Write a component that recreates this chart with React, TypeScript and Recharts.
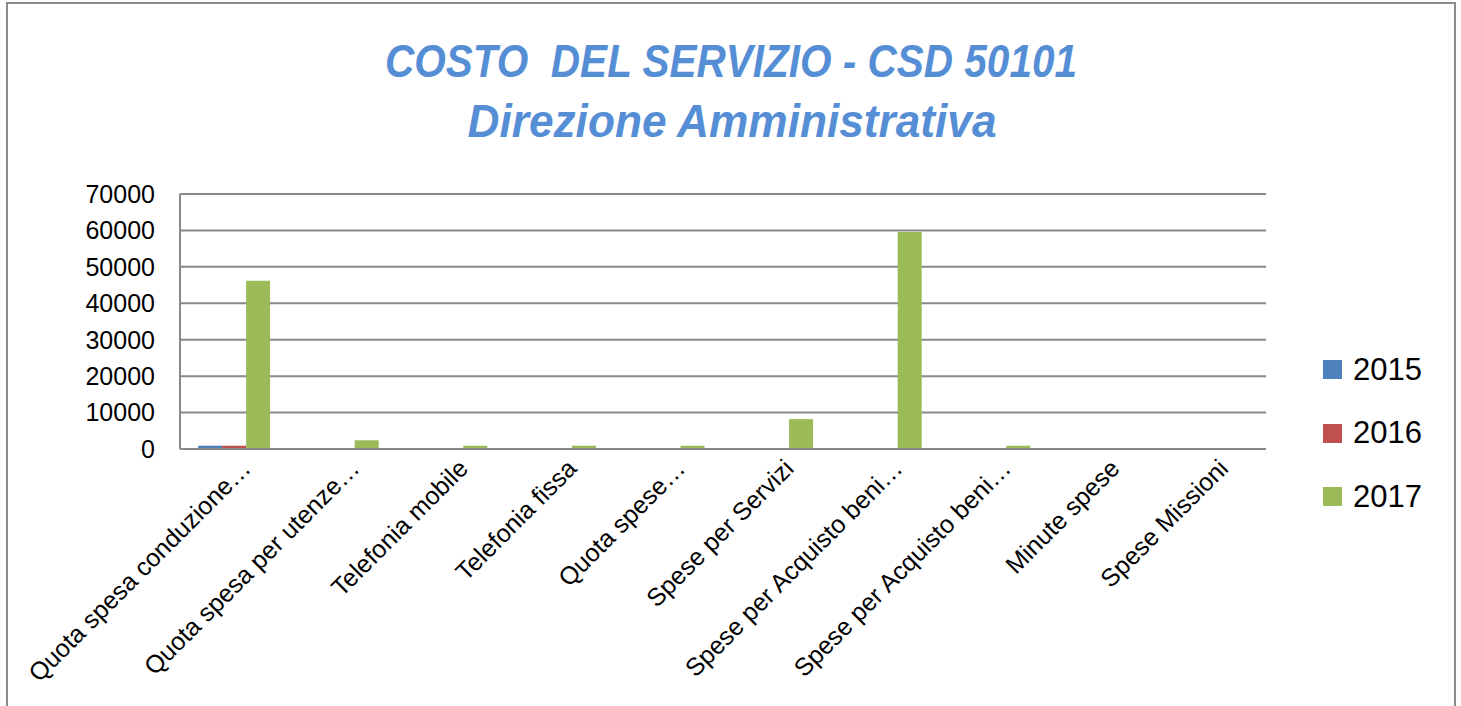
import { BarChart, Bar, XAxis, YAxis, CartesianGrid, Legend } from 'recharts';

const categories = [
  'Quota spesa conduzione…',
  'Quota spesa per utenze…',
  'Telefonia mobile',
  'Telefonia fissa',
  'Quota spese…',
  'Spese per Servizi',
  'Spese per Acquisto beni…',
  'Spese per Acquisto beni…',
  'Minute spese',
  'Spese Missioni',
];
const values2015 = [900, 0, 0, 0, 0, 0, 0, 0, 0, 0];
const values2016 = [900, 0, 0, 0, 0, 0, 0, 0, 0, 0];
const values2017 = [46200, 2400, 900, 900, 900, 8200, 59600, 900, 0, 0];
const yTicks = [0, 10000, 20000, 30000, 40000, 50000, 60000, 70000];

const series = [
  { key: 'v2015', name: '2015', color: '#4F81BD' },
  { key: 'v2016', name: '2016', color: '#C0504D' },
  { key: 'v2017', name: '2017', color: '#9BBB59' },
];

const data = categories.map((name, i) => ({
  name,
  v2015: values2015[i],
  v2016: values2016[i],
  v2017: values2017[i],
}));

const FONT = '"Liberation Sans", Arial, sans-serif';

const XTick = (props: any) => {
  const { x, y, payload } = props;
  return (
    <g transform={`translate(${x + 18},${y + 21})`}>
      <text textAnchor="end" transform="rotate(-45)" fontSize={25} fill="#000" fontFamily={FONT}>
        {payload.value}
      </text>
    </g>
  );
};

const LegendBox = () => (
  <div style={{ fontFamily: FONT }}>
    {series.map((s) => (
      <div key={s.key} style={{ display: 'flex', alignItems: 'center', height: 63.5 }}>
        <div style={{ width: 19, height: 19, background: s.color, marginRight: 11 }} />
        <span style={{ fontSize: 31, color: '#000' }}>{s.name}</span>
      </div>
    ))}
  </div>
);

export default function App() {
  return (
    <div
      style={{
        position: 'absolute',
        left: 0,
        top: 0,
        width: 1461,
        height: 706,
        overflow: 'hidden',
        background: '#fff',
      }}
    >
      <div
        style={{
          position: 'absolute',
          left: 6,
          top: 2,
          width: 1450,
          height: 800,
          border: '2px solid #8c8c8c',
          boxSizing: 'border-box',
        }}
      />
      <svg width={1461} height={160} style={{ position: 'absolute', left: 0, top: 0 }}>
        <text
          x={731}
          y={77}
          textAnchor="middle"
          fontFamily={FONT}
          fontWeight="bold"
          fontStyle="italic"
          fontSize={46}
          fill="#558ED5"
          textLength={692}
          lengthAdjust="spacingAndGlyphs"
          style={{ whiteSpace: 'pre' }}
        >
          COSTO  DEL SERVIZIO - CSD 50101
        </text>
        <text
          x={732}
          y={137}
          textAnchor="middle"
          fontFamily={FONT}
          fontWeight="bold"
          fontStyle="italic"
          fontSize={46}
          fill="#558ED5"
          textLength={529}
          lengthAdjust="spacingAndGlyphs"
        >
          Direzione Amministrativa
        </text>
      </svg>
      <div style={{ position: 'absolute', left: 0, top: 0 }}>
        <BarChart
          width={1461}
          height={706}
          data={data}
          margin={{ top: 194, right: 195, left: 0, bottom: 0 }}
          barCategoryGap="16.67%"
          barGap={0}
        >
          <CartesianGrid vertical={false} stroke="#898989" strokeWidth={2} />
          <XAxis
            dataKey="name"
            height={257}
            interval={0}
            tickLine={false}
            tickSize={0}
            tickMargin={0}
            axisLine={{ stroke: '#898989', strokeWidth: 2 }}
            tick={<XTick />}
          />
          <YAxis
            width={180}
            domain={[0, 70000]}
            ticks={yTicks}
            interval={0}
            tickLine={false}
            tickSize={0}
            tickMargin={25}
            axisLine={{ stroke: '#898989', strokeWidth: 2 }}
            tick={{ fontSize: 25, fill: '#000', fontFamily: FONT }}
          />
          <Legend
            layout="horizontal"
            verticalAlign="middle"
            align="center"
            content={<LegendBox />}
            wrapperStyle={{ left: 1323, top: 338, width: 130, height: 200 }}
          />
          {series.map((s) => (
            <Bar key={s.key} dataKey={s.key} name={s.name} fill={s.color} isAnimationActive={false} />
          ))}
        </BarChart>
      </div>
    </div>
  );
}
